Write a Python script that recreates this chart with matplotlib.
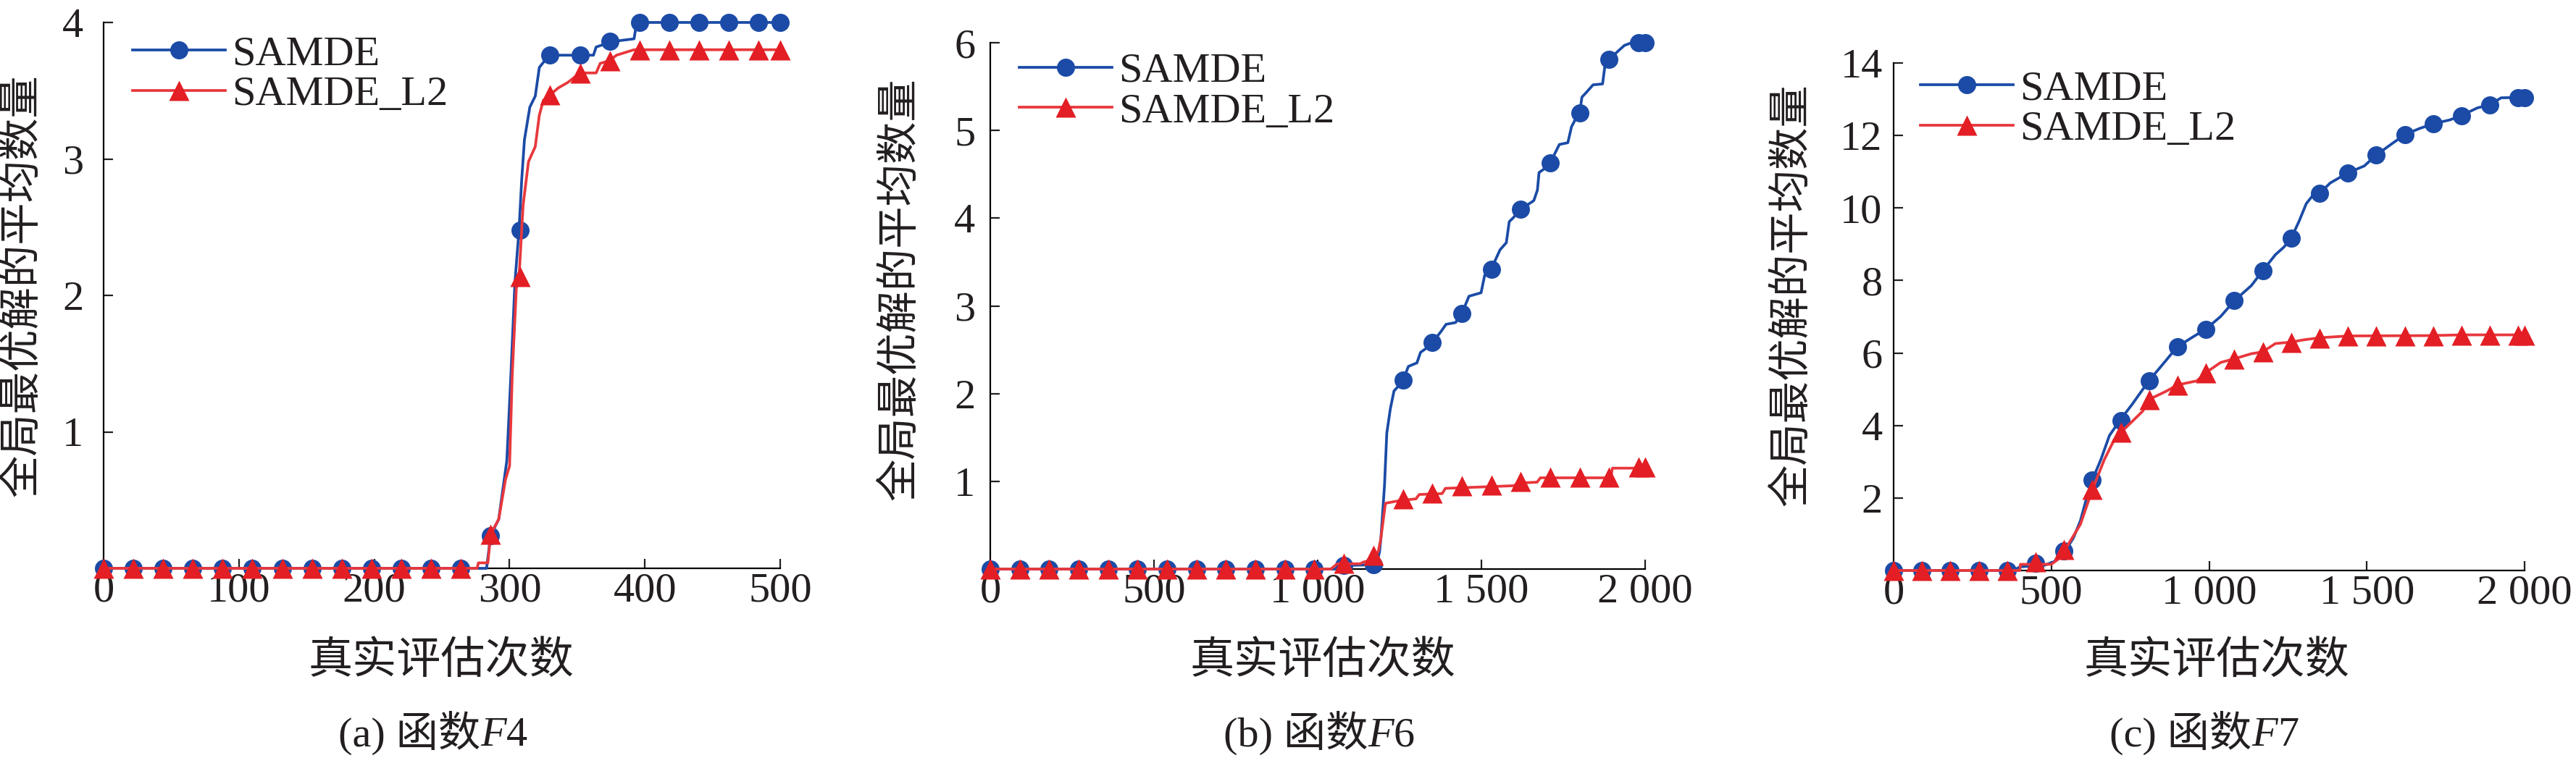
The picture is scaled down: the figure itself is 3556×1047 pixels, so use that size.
import matplotlib
matplotlib.use("Agg")
import matplotlib.pyplot as plt
from matplotlib.lines import Line2D
from matplotlib.offsetbox import TextArea, HPacker, AnnotationBbox

# ---------------- data ----------------
series_names = ["SAMDE", "SAMDE_L2"]
y_label = "全局最优解的平均数量"
x_label = "真实评估次数"
captions = [("(a) 函数", "F", "4"), ("(b) 函数", "F", "6"), ("(c) 函数", "F", "7")]

# panel (a) F4
a_blue_x = [0, 283, 286, 292, 298, 301, 304, 307, 309, 311, 315, 319, 322, 326, 330, 362, 364, 376, 392, 394, 500]
a_blue_y = [0, 0, 0.24, 0.36, 0.79, 1.42, 2.10, 2.48, 2.85, 3.14, 3.38, 3.46, 3.67, 3.72, 3.76, 3.76, 3.82, 3.86, 3.88, 4.00, 4.00]
a_red_x = [0, 276, 277, 284, 286, 292, 297, 300, 302, 305, 307, 310, 314, 319, 322, 325, 330, 336, 343, 352, 364, 367, 374, 379, 392, 500]
a_red_y = [0, 0, 0.04, 0.04, 0.25, 0.36, 0.65, 0.75, 1.42, 2.05, 2.13, 2.66, 2.98, 3.09, 3.32, 3.43, 3.47, 3.52, 3.56, 3.63, 3.63, 3.70, 3.72, 3.76, 3.80, 3.80]
a_mk_x = [0, 22, 44, 66, 88, 110, 132, 154, 176, 198, 220, 242, 264, 286, 308, 330, 352, 374, 396, 418, 440, 462, 484, 500]
a_mk_blue = [0, 0, 0, 0, 0, 0, 0, 0, 0, 0, 0, 0, 0, 0.24, 2.48, 3.76, 3.76, 3.86, 4.0, 4.0, 4.0, 4.0, 4.0, 4.0]
a_mk_red = [0, 0, 0, 0, 0, 0, 0, 0, 0, 0, 0, 0, 0, 0.25, 2.14, 3.47, 3.63, 3.72, 3.80, 3.80, 3.80, 3.80, 3.80, 3.80]

# panel (b) F6
b_blue_x = [0, 1060, 1075, 1180, 1189, 1193, 1204, 1211, 1222, 1233, 1250, 1260, 1277, 1303, 1314, 1329, 1350, 1377, 1392, 1421,
            1440, 1462, 1499, 1510, 1530, 1557, 1576, 1585, 1596, 1620, 1660, 1671, 1676, 1691, 1710, 1738, 1764, 1775, 1786,
            1800, 1807, 1822, 1841, 1870, 1878, 1890, 1922, 1937, 1959, 2000]
b_blue_y = [0, 0, 0.04, 0.05, 0.20, 0.35, 0.95, 1.55, 1.83, 2.03, 2.10, 2.15, 2.31, 2.35, 2.47, 2.51, 2.58, 2.71, 2.79, 2.81,
            2.91, 3.11, 3.15, 3.35, 3.42, 3.64, 3.72, 3.96, 4.00, 4.10, 4.20, 4.32, 4.52, 4.56, 4.63, 4.84, 4.86, 5.04, 5.12,
            5.20, 5.38, 5.44, 5.52, 5.53, 5.76, 5.81, 5.92, 5.97, 6.00, 6.00]
b_red_x = [0, 1040, 1060, 1130, 1140, 1165, 1185, 1193, 1204, 1207, 1250, 1300, 1310, 1380, 1390, 1600, 1610, 1670, 1680, 1895, 1900, 2000]
b_red_y = [0, 0, 0.06, 0.06, 0.08, 0.10, 0.20, 0.35, 0.67, 0.75, 0.78, 0.80, 0.85, 0.86, 0.92, 0.95, 0.98, 0.99, 1.04, 1.04, 1.15, 1.15]
b_mk_x = [0, 90, 180, 270, 360, 450, 540, 630, 720, 810, 900, 990, 1080, 1170, 1260, 1350, 1440, 1530, 1620, 1710, 1800, 1890, 1980, 2000]
b_mk_blue = [0, 0, 0, 0, 0, 0, 0, 0, 0, 0, 0, 0, 0.04, 0.05, 2.15, 2.58, 2.91, 3.42, 4.10, 4.63, 5.20, 5.81, 6.0, 6.0]
b_mk_red = [0, 0, 0, 0, 0, 0, 0, 0, 0, 0, 0, 0, 0.07, 0.16, 0.80, 0.87, 0.95, 0.96, 1.00, 1.05, 1.05, 1.05, 1.16, 1.16]

# panel (c) F7
c_blue_x = [0, 380, 400, 480, 510, 543, 570, 592, 615, 630, 657, 684, 717, 755, 809, 863, 899, 950, 990, 1037, 1080, 1134, 1170,
            1210, 1237, 1260, 1286, 1308, 1330, 1350, 1384, 1440, 1492, 1530, 1579, 1620, 1666, 1710, 1763, 1800, 1850, 1890, 1926, 2000]
c_blue_y = [0, 0, 0.10, 0.15, 0.25, 0.52, 0.90, 1.37, 2.10, 2.50, 3.06, 3.72, 4.14, 4.57, 5.23, 5.79, 6.17, 6.45, 6.66, 7.01, 7.44, 7.86, 8.27,
            8.71, 8.92, 9.16, 9.65, 10.12, 10.36, 10.40, 10.69, 10.97, 11.16, 11.46, 11.77, 12.02, 12.19, 12.32, 12.43, 12.55, 12.76, 12.85, 13.04, 13.05]
c_red_x = [0, 400, 402, 500, 520, 543, 592, 630, 668, 700, 720, 755, 790, 810, 863, 900, 961, 990, 1037, 1080, 1134, 1170, 1210, 1260,
           1298, 1350, 1440, 1700, 1800, 2000]
c_red_y = [0, 0, 0.17, 0.17, 0.30, 0.57, 1.27, 2.23, 3.06, 3.62, 3.81, 4.10, 4.40, 4.72, 4.94, 5.12, 5.23, 5.46, 5.74, 5.84, 5.98, 6.03, 6.26, 6.30,
           6.36, 6.42, 6.47, 6.48, 6.50, 6.50]
c_mk_x = b_mk_x
c_mk_blue = [0, 0, 0, 0, 0, 0.20, 0.53, 2.50, 4.14, 5.23, 6.17, 6.66, 7.44, 8.27, 9.16, 10.40, 10.97, 11.46, 12.02, 12.32, 12.55, 12.85, 13.05, 13.05]
c_mk_red = [0, 0, 0, 0, 0, 0.23, 0.57, 2.23, 3.81, 4.72, 5.12, 5.46, 5.84, 6.03, 6.30, 6.42, 6.47, 6.47, 6.47, 6.48, 6.50, 6.50, 6.50, 6.50]

a_xticks = [0, 100, 200, 300, 400, 500]
a_xticklabels = ["0", "100", "200", "300", "400", "500"]
bc_xticks = [0, 500, 1000, 1500, 2000]
bc_xticklabels = ["0", "500", "1 000", "1 500", "2 000"]
a_yticks = [1, 2, 3, 4]
b_yticks = [1, 2, 3, 4, 5, 6]
c_yticks = [2, 4, 6, 8, 10, 12, 14]

# ---------------- style ----------------
FAM = ["Liberation Serif", "Noto Sans CJK SC", "DejaVu Sans"]
plt.rcParams["font.family"] = FAM
FS = 21
BLUE = "#1b4ba6"
RED_LINE = "#e8383d"
RED_MK = "#e31e24"
TXT = "#231f20"

W, H = 3556, 1047
fig = plt.figure(figsize=(W / 200, H / 200), dpi=200)

def px_axes(l, r, t, b):
    return fig.add_axes([l / W, 1 - b / H, (r - l) / W, (b - t) / H])

panels = [
    dict(rect=(143, 1077, 31, 785), xlim=500, ylim=4,
         bx=a_blue_x, by=a_blue_y, rx=a_red_x, ry=a_red_y, mx=a_mk_x, mb=a_mk_blue, mr=a_mk_red,
         xt=a_xticks, xtl=a_xticklabels, yt=a_yticks, ypad=10, ylab_x=-0.12, ylab_y=0.519,
         xlab=(0.499, -0.172), cap=(0.487, -0.301), leg=(0.043, 0.977)),
    dict(rect=(1367, 2271, 59, 786), xlim=2000, ylim=6,
         bx=b_blue_x, by=b_blue_y, rx=b_red_x, ry=b_red_y, mx=b_mk_x, mb=b_mk_blue, mr=b_mk_red,
         xt=bc_xticks, xtl=bc_xticklabels, yt=b_yticks, ypad=7.5, ylab_x=-0.138, ylab_y=0.532,
         xlab=(0.508, -0.177), cap=(0.502, -0.311), leg=(0.044, 0.982)),
    dict(rect=(2614, 3485, 87, 788), xlim=2000, ylim=14,
         bx=c_blue_x, by=c_blue_y, rx=c_red_x, ry=c_red_y, mx=c_mk_x, mb=c_mk_blue, mr=c_mk_red,
         xt=bc_xticks, xtl=bc_xticklabels, yt=c_yticks, ypad=5.5, ylab_x=-0.161, ylab_y=0.543,
         xlab=(0.512, -0.181), cap=(0.4925, -0.3195), leg=(0.042, 0.986)),
]

LW = 1.35
MS_O = 9
MS_T = 10
for p, cap in zip(panels, captions):
    ax = px_axes(*p["rect"])
    ax.plot(p["bx"], p["by"], color=BLUE, lw=LW, clip_on=False, zorder=3)
    ax.plot(p["mx"], p["mb"], ls="none", marker="o", ms=MS_O, color=BLUE, mec="none", clip_on=False, zorder=3)
    ax.plot(p["rx"], p["ry"], color=RED_LINE, lw=LW, clip_on=False, zorder=4)
    ax.plot(p["mx"], p["mr"], ls="none", marker="^", ms=MS_T, color=RED_MK, mec="none", clip_on=False, zorder=4)
    ax.set_xlim(0, p["xlim"])
    ax.set_ylim(0, p["ylim"])
    ax.set_xticks(p["xt"])
    ax.set_xticklabels(p["xtl"])
    ax.set_yticks(p["yt"])
    for s in ("top", "right"):
        ax.spines[s].set_visible(False)
    for s in ("left", "bottom"):
        ax.spines[s].set_linewidth(0.8)
        ax.spines[s].set_zorder(2.5)
    ax.tick_params(axis="both", direction="in", length=4.7, width=0.8, labelsize=FS, colors=TXT)
    ax.tick_params(axis="x", pad=2)
    ax.tick_params(axis="y", pad=p["ypad"])
    ax.set_xlabel(x_label, fontsize=FS + 1, color=TXT)
    ax.xaxis.set_label_coords(*p["xlab"])
    ax.xaxis.label.set_va("center")
    ax.set_ylabel(y_label, fontsize=FS, color=TXT)
    ax.yaxis.set_label_coords(p["ylab_x"], p["ylab_y"])
    ax.yaxis.label.set_va("center")

    handles = [
        Line2D([], [], color=BLUE, lw=LW, marker="o", ms=MS_O, mec="none"),
        Line2D([], [], color=RED_LINE, lw=LW, marker="^", ms=MS_T, mfc=RED_MK, mec="none"),
    ]
    ax.legend(handles, series_names, loc="upper left", bbox_to_anchor=p["leg"], frameon=False,
              fontsize=FS, handlelength=2.2, handletextpad=0.15, labelspacing=0.05,
              borderpad=0, borderaxespad=0, numpoints=1, labelcolor=TXT)

    tp = dict(fontsize=FS, family=FAM, color=TXT)
    parts = [TextArea(cap[0], textprops=tp),
             TextArea(cap[1], textprops=dict(tp, style="italic", family=["Liberation Serif"])),
             TextArea(cap[2], textprops=tp)]
    box = HPacker(children=parts, sep=0, pad=0, align="baseline")
    ab = AnnotationBbox(box, p["cap"], xycoords="axes fraction", frameon=False,
                        box_alignment=(0.5, 0.5), annotation_clip=False, pad=0)
    ax.add_artist(ab)

fig.savefig("out.png", dpi=200)
